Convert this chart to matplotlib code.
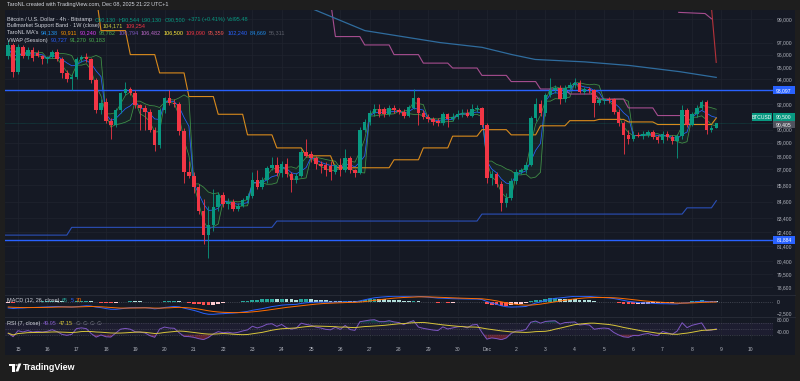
import numpy as np
import matplotlib
matplotlib.use("Agg")
import matplotlib.pyplot as plt
from matplotlib.ticker import FixedLocator, NullLocator, FixedFormatter
from matplotlib.patches import Rectangle, Polygon, Circle

plt.rcParams['font.family'] = ['Liberation Sans', 'DejaVu Sans']

# ---------------------------------------------------------------- data
FIRST_BAR = -2          # 4h bars counted from Nov 15 00:00 (first visible bar: Nov 14 16:00)
opens = [95900, 96800, 94600, 96600, 95900, 96400, 96100, 95900, 95600, 95800, 96200, 95600, 94500, 94000,
         94200, 95600, 95800, 95600, 93900, 91500, 92200, 90700, 90400, 91500, 92900, 93200, 92900, 91900,
         91700, 91400, 90000, 88800, 91500, 92500, 92100, 92000, 89900, 86800, 86500, 85700, 83900, 82200,
         82900, 84200, 85100, 84400, 84600, 84100, 84300, 84700, 85000, 86200, 85700, 86200, 87100, 87300,
         86700, 87400, 86600, 86200, 86500, 88300, 88100, 87800, 87400, 87300, 87200, 86800, 87300, 86900,
         87800, 86900, 86700, 90000, 90600, 91300, 91600, 91600, 91200, 91700, 91500, 91400, 91100, 91700,
         92500, 91300, 91000, 90800, 90700, 90500, 91200, 90800, 91000, 91200, 91300, 91100, 91600, 91700,
         90400, 86300, 86600, 85900, 84500, 84900, 86100, 86800, 86900, 87300, 90900, 92000, 91300, 92700,
         93100, 93300, 92400, 93300, 93500, 93700, 93000, 93200, 93100, 92100, 92300, 92400, 92400, 91400,
         90500, 89600, 89300, 89600, 89500, 89600, 89800, 89400, 89200, 89700, 89400, 89100, 89500, 91500,
         90400, 91200, 91700, 92200, 89950, 90130]
highs = [97200, 97000, 96900, 96800, 96600, 96600, 96400, 96000, 95900, 96400, 96500, 95800, 94700, 94400,
         95800, 96000, 96100, 95700, 94100, 92400, 92500, 90900, 91700, 93000, 93800, 93400, 93100, 92000,
         91900, 91600, 90200, 91700, 92600, 93100, 92400, 92200, 90100, 87600, 86800, 85900, 84800, 84300,
         85500, 85300, 85300, 84900, 84800, 84500, 84900, 85200, 86800, 86900, 86400, 87200, 87900, 87900,
         87600, 87800, 86800, 86700, 88500, 89300, 88400, 88000, 87600, 87500, 87600, 87400, 87800, 88500,
         88000, 87000, 90200, 90800, 91500, 92000, 92000, 91800, 91900, 91900, 91700, 91600, 91900, 93200,
         92600, 91500, 91200, 91000, 90900, 91400, 91300, 91300, 91500, 91600, 91600, 92000, 91900, 91800,
         90500, 86900, 86800, 86100, 85200, 86300, 87000, 87100, 87500, 91100, 92500, 92300, 92900, 94100,
         93500, 93500, 93500, 93800, 94100, 93900, 93400, 93400, 93200, 92600, 92500, 92600, 92500, 91600,
         90700, 90000, 89900, 89800, 89900, 90000, 90000, 89600, 89900, 89900, 89600, 89700, 91900, 91700,
         91400, 91900, 92300, 92300, 90400, 90544]
lows = [95600, 94200, 94400, 95700, 95600, 95500, 95800, 95200, 95300, 95700, 95500, 94100, 93800, 93100,
        94000, 95400, 95400, 93700, 91300, 91200, 90500, 89300, 90200, 91300, 92700, 92700, 91700, 90000,
        90000, 89800, 88400, 88600, 91300, 91900, 91800, 89600, 86000, 86300, 85200, 83700, 81600, 80600,
        82500, 83900, 84200, 84100, 83900, 83900, 84200, 84500, 84900, 85500, 85500, 86000, 86900, 86500,
        86400, 86400, 85300, 86000, 86400, 87900, 87500, 87000, 86700, 86500, 86200, 86600, 86500, 86800,
        86700, 86400, 86600, 89800, 90400, 91100, 91000, 91000, 91100, 91300, 91200, 90900, 91000, 91600,
        90400, 90800, 90600, 90400, 90300, 90400, 90200, 90700, 90800, 91000, 91000, 91000, 91400, 90200,
        86000, 85800, 85700, 83900, 84200, 84700, 85900, 86600, 86700, 87200, 90700, 91100, 91100, 92600,
        92900, 92000, 92200, 93100, 93300, 92900, 92800, 92900, 91000, 91900, 92000, 92100, 91200, 90300,
        88100, 88900, 89100, 89400, 89300, 89400, 89300, 89000, 89000, 89200, 88900, 87800, 89300, 90200,
        90300, 91000, 91500, 89700, 89800, 90130]
closes = [96800, 94600, 96600, 95900, 96400, 95700, 95900, 95600, 95800, 96200, 95600, 94500, 94000, 94200,
          95600, 95800, 95600, 93900, 91500, 92100, 90700, 90400, 91500, 92900, 93200, 92900, 91900, 91700,
          91400, 90000, 88800, 91500, 92500, 92100, 92000, 89900, 86800, 86500, 85700, 83900, 82200, 82900,
          84200, 85100, 84400, 84600, 84100, 84300, 84700, 85000, 86200, 85700, 86200, 87100, 87300, 86700,
          87400, 86600, 86200, 86500, 88300, 88000, 87800, 87400, 87200, 86900, 86800, 87300, 86900, 87800,
          86900, 86700, 90000, 90600, 91300, 91600, 91200, 91200, 91700, 91500, 91400, 91100, 91800, 92500,
          91300, 91000, 90800, 90600, 90500, 91200, 90800, 91000, 91200, 91300, 91100, 91600, 91700, 90400,
          86300, 86600, 85900, 84500, 84900, 86100, 86800, 86900, 87300, 90900, 92000, 91300, 92700, 93100,
          93300, 92400, 93300, 93500, 93700, 93000, 93200, 93100, 92100, 92300, 92400, 92300, 91400, 90500,
          89600, 89300, 89600, 89500, 89700, 89800, 89400, 89200, 89700, 89400, 89100, 89500, 91500, 90400,
          91200, 91700, 92200, 89950, 90130, 90500]

date_labels = ['15', '16', '17', '18', '19', '20', '21', '22', '23', '24', '25', '26', '27', '28', '29',
               '30', 'Dec', '2', '3', '4', '5', '6', '7', '8', '9', '10']
price_ticks = [99000, 97000, 96000, 95000, 94000, 92000, 90000, 89000, 88000, 87000, 85800, 84600,
               83400, 82400, 81400, 80400, 79500, 78600]
price_tick_labels = ['99,000', '97,000', '96,000', '95,000', '94,000', '92,000', '90,000', '89,000',
                     '88,000', '87,000', '85,800', '84,600', '83,400', '82,400', '81,400', '80,400',
                     '79,500', '78,600']

# horizontal levels
level_hi = 93097
level_lo = 81884
last_price = 90500
vwap_tag = 90405

# TaroNL daily MA (orange) - level starting at 20:00 of day index (0 = Nov 15)
orange_days = [1, 2, 3, 4, 5, 6, 7, 8, 9, 10, 11, 12, 13, 14, 15, 16, 17, 18, 19, 20, 21, 22, 23]
orange_vals = [101000, 98000, 96000, 94500, 92600, 91200, 89600, 88600, 88000, 87100, 87100, 87700,
               88600, 89500, 90000, 89600, 90300, 90700, 90800, 90600, 90400, 90400, 90911]
# TaroNL daily MA (magenta)
pink_days = [9, 10, 11, 12, 13, 14, 15, 16, 17, 18, 19, 20, 21, 22]
pink_vals = [100500, 97500, 96800, 96000, 95300, 94900, 94300, 93800, 93200, 92800, 92400, 91700,
             91100, 91100]
# TaroNL weekly MA (blue, lower)
week_days = [-7, 1, 8, 15, 22, 23]
week_vals = [82200, 82750, 83200, 83700, 84150, 84669]
# TaroNL slow MA (steel blue curve): (day, price)
slow_t = [10.0, 11.84, 14.4, 15.84, 16.86, 17.65, 19.35, 20.89, 22.59, 23.83]
slow_p = [99900, 98000, 97000, 96600, 96000, 95600, 95400, 95100, 94600, 94138]
# MA lines near the top right edge
top_t = [22.55, 23.45, 23.67]
top_p = [99550, 99450, 99000]
red_t = [23.67, 23.83]
red_p = [99900, 95359]

# indicator seeds
EMA12_SEED, EMA26_SEED, SIGNAL_SEED = 97400, 98800, -1100
RSI_GAIN_SEED, RSI_LOSS_SEED = 300.0, 560.0

# ---------------------------------------------------------------- style
W, H = 800, 381
BG = '#151924'
FRAME = '#1e1e1e'
GRID = '#20242f'
TXT = '#b2b5be'
UP, DN = '#089981', '#f23645'
FS = 3.6
FSL = 3.95

fig = plt.figure(figsize=(W / 100, H / 100), dpi=100)
fig.patch.set_facecolor(FRAME)
fig.add_artist(Rectangle((5 / W, 1 - 355 / H), 790 / W, 345 / H, transform=fig.transFigure,
                         facecolor=BG, edgecolor='none', zorder=0))


def add_ax(x0, y0, x1, y1):
    a = fig.add_axes([x0 / W, 1 - y1 / H, (x1 - x0) / W, (y1 - y0) / H])
    a.set_facecolor('none')
    for s in a.spines.values():
        s.set_visible(False)
    return a


X0, X1 = 5, 773
T_LEFT = (X0 - 18) / 29.3
T_RIGHT = (X1 - 18) / 29.3

ax = add_ax(X0, 10, X1, 294)
axm = add_ax(X0, 295, X1, 316)
axr = add_ax(X0, 317, X1, 340)

# separators
for yy in (294.5, 316.5):
    fig.add_artist(plt.Line2D([5 / W, 795 / W], [1 - yy / H] * 2, color='#2a2e39', lw=0.6, zorder=1))

n = len(closes)
kk = np.arange(FIRST_BAR, FIRST_BAR + n)
t = kk / 6.0
o = np.array(opens, float); h = np.array(highs, float)
l = np.array(lows, float); c = np.array(closes, float)
cols = np.where(c >= o, UP, DN)

# ---------------- main pane
ax.set_yscale('log')
ax.set_xlim(T_LEFT, T_RIGHT)
ax.set_ylim(78142, 99753)
ax.yaxis.set_major_locator(FixedLocator(price_ticks))
ax.yaxis.set_major_formatter(FixedFormatter(price_tick_labels))
ax.yaxis.set_minor_locator(NullLocator())
ax.yaxis.tick_right()
ax.tick_params(axis='y', length=0, pad=3, labelsize=FS, labelcolor=TXT)
ax.set_xticks(np.arange(len(date_labels)))
ax.tick_params(axis='x', length=0, labelbottom=False)
ax.grid(True, color=GRID, lw=0.5)
ax.set_axisbelow(True)

# VWAP session (equal-weight typical price per daily session)
hlc3 = (h + l + c) / 3
day = np.floor(t).astype(int)
vw = np.zeros(n); up_b = np.zeros(n); lo_b = np.zeros(n)
for d in np.unique(day):
    idx = np.where(day == d)[0]
    for j, i in enumerate(idx):
        seg = hlc3[idx[:j + 1]]
        m = seg.mean(); sd = seg.std()
        vw[i] = m; up_b[i] = m + sd; lo_b[i] = m - sd
ax.fill_between(t, lo_b, up_b, color='#4caf50', alpha=0.07, lw=0, zorder=2)
ax.plot(t, up_b, color='#4caf50', lw=0.55, alpha=0.8, zorder=2)
ax.plot(t, lo_b, color='#4caf50', lw=0.55, alpha=0.8, zorder=2)
ax.plot(t, vw, color='#2962ff', lw=0.55, zorder=2)


def step_line(days, vals, lead=1 / 6):
    xs, ys = [T_LEFT], [vals[0]]
    for i in range(1, len(days)):
        ts = days[i] + 5 / 6
        xs += [ts - lead, ts]
        ys += [vals[i - 1], vals[i]]
    return xs, ys


xs, ys = step_line(orange_days, orange_vals)
ax.plot(xs, ys, color='#d98a1c', lw=0.8, zorder=2)
xs, ys = step_line(pink_days, pink_vals)
ax.plot(xs, ys, color='#a64d8f', lw=0.8, zorder=2)
xs, ys = step_line(week_days, week_vals)
ax.plot(xs, ys, color='#2a4fb8', lw=0.8, zorder=2)
ax.plot(slow_t, slow_p, color='#2f6c9e', lw=0.9, zorder=2)
ax.plot(top_t, top_p, color='#a64d8f', lw=0.8, zorder=2)
ax.plot(red_t, red_p, color='#b5323a', lw=0.8, zorder=2)

ax.axhline(level_hi, color='#2962ff', lw=1.0, zorder=3)
ax.axhline(level_lo, color='#2962ff', lw=1.0, zorder=3)
ax.axhline(last_price, color=UP, lw=0.4, ls=(0, (1, 1)), alpha=0.6, zorder=2)

# candles
ax.vlines(t, l, h, colors=cols, lw=0.6, zorder=4)
body_lo = np.minimum(o, c); body_h = np.maximum(np.abs(c - o), 40)
ax.bar(t, body_h, bottom=body_lo, width=0.12, color=cols, edgecolor='none', zorder=5)

# ---------------- MACD pane
def ema(vals, length, seed):
    a = 2 / (length + 1); e = seed; out = []
    for v in vals:
        e = e + a * (v - e); out.append(e)
    return np.array(out)


macd = ema(c, 12, EMA12_SEED) - ema(c, 26, EMA26_SEED)
sig = ema(macd, 9, SIGNAL_SEED)
hist = macd - sig
hcols = []
for i in range(n):
    prev = hist[i - 1] if i > 0 else hist[i]
    if hist[i] >= 0:
        hcols.append('#26a69a' if hist[i] >= prev else '#b2dfdb')
    else:
        hcols.append('#ff5252' if hist[i] < prev else '#ffcdd2')
axm.set_xlim(T_LEFT, T_RIGHT)
axm.set_ylim(-3082, 1444)
axm.bar(t, hist, width=0.13, color=hcols, edgecolor='none', zorder=3)
axm.plot(t, macd, color='#2962ff', lw=0.7, zorder=4)
axm.plot(t, sig, color='#ff6d00', lw=0.7, zorder=4)
axm.axhline(0, color='#787b86', lw=0.4, ls=(0, (2, 2)), alpha=0.7)
axm.set_xticks(np.arange(len(date_labels)))
axm.yaxis.set_major_locator(FixedLocator([0, -2500]))
axm.yaxis.set_major_formatter(FixedFormatter(['0', '\u22122,500']))
axm.yaxis.tick_right()
axm.tick_params(axis='y', length=0, pad=3, labelsize=FS, labelcolor=TXT)
axm.tick_params(axis='x', length=0, labelbottom=False)
axm.grid(True, axis='x', color=GRID, lw=0.5)

# ---------------- RSI pane
def rsi(vals, length, g0, l0):
    ag, al = g0, l0; out = []; prev = vals[0]
    for v in vals:
        ch = v - prev; prev = v
        ag = (ag * (length - 1) + max(ch, 0)) / length
        al = (al * (length - 1) + max(-ch, 0)) / length
        out.append(100 - 100 / (1 + ag / al))
    return np.array(out)


r = rsi(c, 7, RSI_GAIN_SEED, RSI_LOSS_SEED)
rma = np.array([r[max(0, i - 13):i + 1].mean() for i in range(n)])
axr.set_xlim(T_LEFT, T_RIGHT)
axr.set_ylim(12.3, 89)
axr.axhspan(30, 70, color='#7e57c2', alpha=0.08, lw=0)
for lv in (70, 50, 30):
    axr.axhline(lv, color='#787b86', lw=0.4, ls=(0, (2, 2)), alpha=0.6)
axr.fill_between(t, 70, r, where=r > 70, color='#089981', alpha=0.35, lw=0, interpolate=True)
axr.fill_between(t, 30, r, where=r < 30, color='#f23645', alpha=0.35, lw=0, interpolate=True)
axr.plot(t, r, color='#7e57c2', lw=0.7, zorder=4)
axr.plot(t, rma, color='#d8c63a', lw=0.7, zorder=4)
axr.set_xticks(np.arange(len(date_labels)))
axr.set_xticklabels(date_labels)
axr.tick_params(axis='x', length=0, pad=5.2, labelsize=FS, labelcolor=TXT)
axr.yaxis.set_major_locator(FixedLocator([80, 40]))
axr.yaxis.set_major_formatter(FixedFormatter(['80.00', '40.00']))
axr.yaxis.tick_right()
axr.tick_params(axis='y', length=0, pad=3, labelsize=FS, labelcolor=TXT)
axr.grid(True, axis='x', color=GRID, lw=0.5)

# ---------------- price tags
def ypix(a, v):
    return H - a.transData.transform((0, v))[1]


def tag(ypx, text, color, x0=773, x1=795, tc='white'):
    fig.add_artist(Rectangle((x0 / W, 1 - (ypx + 4) / H), (x1 - x0) / W, 8 / H, transform=fig.transFigure,
                             facecolor=color, edgecolor='none', zorder=10))
    fig.text((x0 + x1) / 2 / W, 1 - ypx / H, text, color=tc, fontsize=FS, ha='center', va='center',
             zorder=11)


fig.canvas.draw()
tag(ypix(ax, level_hi), '93,097', '#2962ff')
tag(ypix(ax, level_lo), '81,884', '#2962ff')
tag(ypix(ax, vwap_tag), '90,405', '#50535e')
tag(ypix(ax, last_price) - 6, '90,500', UP)
tag(ypix(ax, last_price) - 6, 'BTCUSD', UP, x0=752, x1=772)

# ---------------- texts
renderer = fig.canvas.get_renderer()


def seg_text(x_px, y_px, parts, size=FSL, gap=2.4):
    x = x_px
    for s, col in parts:
        tt = fig.text(x / W, 1 - y_px / H, s, color=col, fontsize=size, va='center', ha='left', zorder=12)
        bb = tt.get_window_extent(renderer=renderer)
        x += bb.width + gap


fig.text(7 / W, 1 - 4.5 / H, 'TaroNL created with TradingView.com, Dec 08, 2025 21:22 UTC+1',
         color='#d1d4dc', fontsize=FSL, va='center', ha='left')
G = '#089981'
seg_text(7.3, 19.3, [('Bitcoin / U.S. Dollar \u00b7 4h \u00b7 Bitstamp', '#d1d4dc'),
                     ('O90,130', G), ('H90,544', G), ('L90,130', G), ('C90,500', G),
                     ('+371 (+0.41%)', G), ('Vol95.48', G)])
seg_text(7.3, 25.8, [('Bullmarket Support Band \u00b7 1W (close)', '#d1d4dc'), ('104,171', '#c6cc3c'),
                     ('109,254', '#f23645')])
seg_text(7.3, 32.9, [("TaroNL MA's", '#d1d4dc'), ('94,138', '#2196f3'), ('90,911', '#ff9800'),
                     ('90,240', '#e040fb'), ('98,782', '#4caf50'), ('100,794', '#7e57c2'),
                     ('106,482', '#ba68c8'), ('106,500', '#ffeb3b'), ('109,090', '#f23645'),
                     ('95,359', '#ef5350'), ('102,240', '#2962ff'), ('84,669', '#1e88e5'),
                     ('56,311', '#5d606b')])
seg_text(7.3, 40.2, [('VWAP (Session)', '#d1d4dc'), ('90,727', '#2962ff'), ('91,270', '#4caf50'),
                     ('90,183', '#4caf50')])
seg_text(7.3, 300.7, [('MACD (12, 26, close)', '#d1d4dc'), ('65', '#26a69a'), ('5', '#2962ff'),
                      ('70', '#ff6d00')])
seg_text(7.3, 323.3, [('RSI (7, close)', '#d1d4dc'), ('49.95', '#7e57c2'), ('47.15', '#d8c63a'),
                      ('\u2205', '#787b86'), ('\u2205', '#787b86'), ('\u2205', '#787b86'),
                      ('\u2205', '#787b86')])

# footer logo
def fpt(x, y):
    return (x / W, 1 - y / H)


fig.add_artist(Polygon([fpt(9, 363.5), fpt(15, 363.5), fpt(15, 371.5), fpt(12.3, 371.5), fpt(12.3, 366),
                        fpt(9, 366)], closed=True, transform=fig.transFigure, facecolor='white',
                       edgecolor='none'))
fig.add_artist(Polygon([fpt(15.5, 371.5), fpt(18.3, 371.5), fpt(21.3, 363.5), fpt(18.5, 363.5)], closed=True,
                       transform=fig.transFigure, facecolor='white', edgecolor='none'))
fig.add_artist(Circle(fpt(16.6, 365.0), 1.3 / W, transform=fig.transFigure, facecolor='white',
                      edgecolor='none'))
fig.text(23 / W, 1 - 367.5 / H, 'TradingView', color='white', fontsize=6.4, fontweight='bold',
         va='center', ha='left')

fig.savefig('out.png', dpi=100, facecolor=fig.get_facecolor())
